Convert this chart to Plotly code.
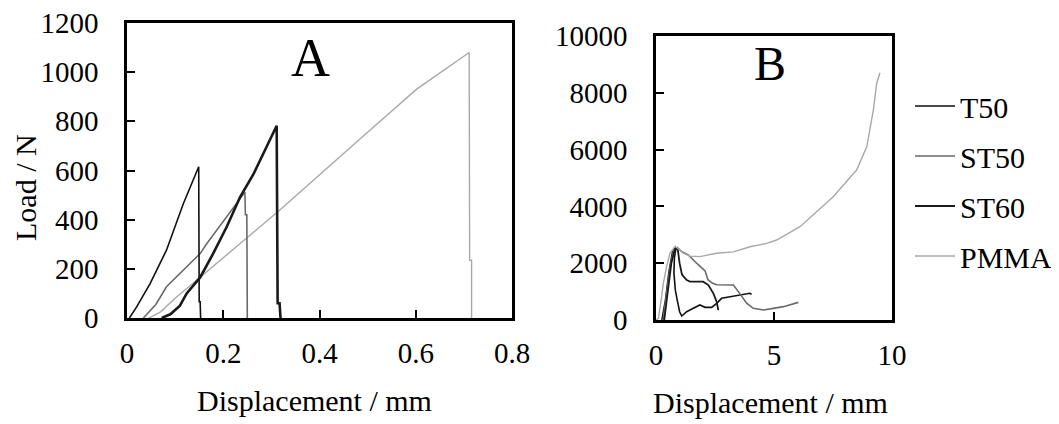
import plotly.graph_objects as go

W, H = 1059, 424
OFF = 8  # page body margin that the browser adds around the figure
FONT = "Liberation Serif"

series_names = ["T50", "ST50", "ST60", "PMMA"]
colors = {"T50": "#111111", "ST50": "#6a6a6a", "ST60": "#1a1a1a", "PMMA": "#a8a8a8"}
widths_a = {"T50": 1.6, "ST50": 1.6, "ST60": 2.6, "PMMA": 1.4}
widths_b = {"T50": 1.6, "ST50": 1.6, "ST60": 1.8, "PMMA": 1.4}

# ---- Panel A (Load / N vs Displacement / mm) ----
a_T50_x = [0.005, 0.02, 0.048, 0.082, 0.117, 0.149, 0.150, 0.152, 0.153]
a_T50_y = [0, 45, 140, 276, 465, 615, 66, 66, 0]

a_ST50_x = [0.034, 0.06, 0.082, 0.117, 0.152, 0.166, 0.207, 0.242, 0.245, 0.246, 0.249, 0.250]
a_ST50_y = [0, 55, 127, 195, 262, 303, 411, 505, 512, 420, 420, 0]

a_ST60_x = [0.072, 0.09, 0.11, 0.124, 0.152, 0.179, 0.207, 0.235, 0.263, 0.290, 0.311, 0.313, 0.317, 0.319]
a_ST60_y = [0, 15, 50, 100, 165, 262, 370, 492, 586, 694, 782, 60, 60, 0]

a_PMMA_x = [0.045, 0.07, 0.10, 0.152, 0.317, 0.484, 0.602, 0.711, 0.712, 0.716, 0.716]
a_PMMA_y = [0, 25, 80, 165, 438, 728, 931, 1080, 235, 235, 0]

# ---- Panel B ----
b_T50_x = [0.25, 0.4, 0.55, 0.7, 0.85, 0.78, 0.76, 0.82, 0.9, 1.0, 1.09, 1.30, 1.58, 1.86, 2.08, 2.36, 2.57, 2.78, 3.14, 3.56, 3.98, 4.05]
b_T50_y = [0, 700, 1700, 2400, 2550, 2200, 1650, 1050, 700, 290, 140, 293, 411, 528, 446, 446, 587, 763, 821, 880, 939, 900]

b_ST50_x = [0.3, 0.45, 0.6, 0.75, 0.9, 1.1, 1.37, 1.72, 2.08, 2.2, 2.4, 2.57, 3.0, 3.28, 3.49, 3.63, 3.84, 4.12, 4.55, 4.97, 5.4, 6.03]
b_ST50_y = [0, 900, 1900, 2450, 2550, 2400, 2290, 2000, 1730, 1420, 1290, 1240, 1240, 1230, 1000, 820, 590, 410, 350, 410, 470, 620]

b_ST60_x = [0.35, 0.5, 0.65, 0.8, 0.92, 1.0, 1.1, 1.3, 1.44, 2.0, 2.22, 2.43, 2.57, 2.64]
b_ST60_y = [0, 950, 2000, 2500, 2500, 2000, 1600, 1408, 1350, 1350, 1230, 940, 645, 350]

b_PMMA_x = [0.0, 0.1, 0.24, 0.31, 0.45, 0.59, 0.81, 1.16, 1.44, 1.86, 2.57, 3.28, 3.98, 4.69, 5.11, 6.10, 7.51, 8.50, 8.93, 9.21, 9.35, 9.49]
b_PMMA_y = [0, 60, 820, 1290, 1880, 2350, 2600, 2350, 2250, 2230, 2350, 2400, 2580, 2700, 2816, 3284, 4340, 5280, 6100, 7392, 8330, 8705]

a_data = {"T50": (a_T50_x, a_T50_y), "ST50": (a_ST50_x, a_ST50_y),
          "ST60": (a_ST60_x, a_ST60_y), "PMMA": (a_PMMA_x, a_PMMA_y)}
b_data = {"T50": (b_T50_x, b_T50_y), "ST50": (b_ST50_x, b_ST50_y),
          "ST60": (b_ST60_x, b_ST60_y), "PMMA": (b_PMMA_x, b_PMMA_y)}

a_xticks = [0, 0.2, 0.4, 0.6, 0.8]
a_xticklabels = ["0", "0.2", "0.4", "0.6", "0.8"]
a_yticks = [0, 200, 400, 600, 800, 1000, 1200]
b_xticks = [0, 5, 10]
b_yticks = [0, 2000, 4000, 6000, 8000, 10000]

x_title = "Displacement / mm"
y_title = "Load / N"

fig = go.Figure()
for name in ["PMMA", "ST50", "T50", "ST60"]:
    x, y = a_data[name]
    fig.add_trace(go.Scatter(x=x, y=y, mode="lines", name=name, showlegend=False,
                             line=dict(color=colors[name], width=widths_a[name]),
                             xaxis="x", yaxis="y"))
for i, name in enumerate(series_names):
    x, y = b_data[name]
    fig.add_trace(go.Scatter(x=x, y=y, mode="lines", name=name, legendgroup=name,
                             legendrank=i + 1,
                             line=dict(color=colors[name], width=widths_b[name]),
                             xaxis="x2", yaxis="y2"))

tickfont = dict(family=FONT, size=29, color="#000")
common = dict(showline=True, linecolor="#000", linewidth=2.5, mirror=True,
              ticks="inside", ticklen=8, tickwidth=2, tickcolor="#000",
              showgrid=False, zeroline=False, tickfont=tickfont, automargin=False,
              ticklabeloverflow="allow")

def px_x(p):
    return (p - OFF) / W

def px_y(p):
    return 1 - (p - OFF) / H

def label(text, x, y, size, angle=0):
    return dict(text=text, x=px_x(x), y=px_y(y), xref="paper", yref="paper",
                xanchor="center", yanchor="middle", showarrow=False, textangle=angle,
                font=dict(family=FONT, size=size, color="#000"))

fig.update_layout(
    width=W, height=H,
    margin=dict(l=0, r=0, t=0, b=0, autoexpand=False),
    paper_bgcolor="white", plot_bgcolor="white",
    font=dict(family=FONT, size=29, color="#000"),
    xaxis=dict(domain=[px_x(127), px_x(512)], range=[0, 0.8], tickvals=a_xticks,
               ticktext=a_xticklabels, anchor="y", ticklabelstandoff=7, **common),
    yaxis=dict(domain=[px_y(318), px_y(23)], range=[0, 1200], tickvals=a_yticks,
               ticktext=[str(v) for v in a_yticks],
               anchor="x", ticklabelstandoff=20, **common),
    xaxis2=dict(domain=[px_x(656), px_x(892)], range=[0, 10], tickvals=b_xticks,
                ticktext=[str(v) for v in b_xticks],
                anchor="y2", ticklabelstandoff=7, **common),
    yaxis2=dict(domain=[px_y(320), px_y(36)], range=[0, 10000], tickvals=b_yticks,
                ticktext=[str(v) for v in b_yticks],
                anchor="x2", ticklabelstandoff=20, **common),
    legend=dict(x=px_x(910), y=px_y(80), xanchor="left", yanchor="top",
                font=dict(family=FONT, size=30, color="#000"),
                tracegroupgap=8, itemwidth=40, bgcolor="rgba(0,0,0,0)"),
    annotations=[
        label("A", 310, 58, 54),
        label("B", 770, 64, 48),
        label(x_title, 314, 400, 30),
        label(x_title, 770, 402, 30),
        label(y_title, 25, 188, 30, angle=-90),
    ],
)

fig.write_html("out.html")
